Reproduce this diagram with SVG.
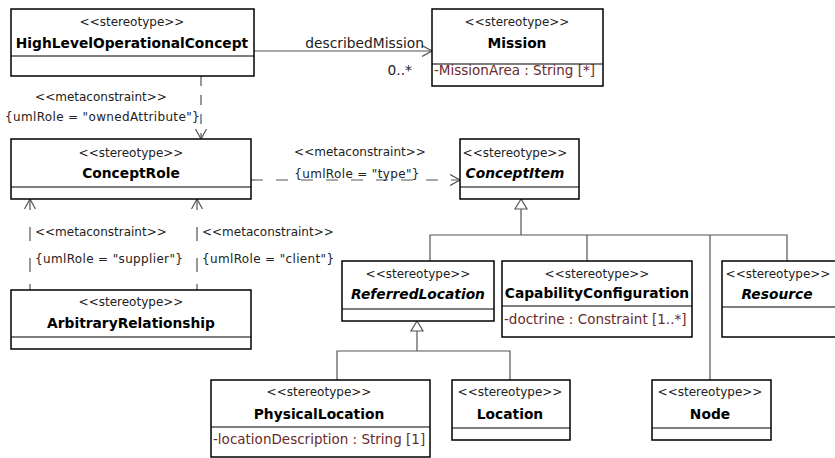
<svg xmlns="http://www.w3.org/2000/svg" width="835" height="458" viewBox="0 0 835 458">
<style>
.box{fill:#fff;stroke:#000;stroke-width:1.5}
.dv{stroke:#000;stroke-width:1.2}
text{font-family:"DejaVu Sans",Verdana,sans-serif}
.st{font-size:12px;fill:#222;text-anchor:middle}
.nm{font-size:13.8px;font-weight:bold;fill:#000;text-anchor:middle}
.it{font-style:italic}
.at{font-size:13.5px;fill:#6a2a2a}
.lbl{font-size:12px;fill:#222}
.sp{letter-spacing:0.35px}
.al{font-size:13.8px;fill:#222}
.conn{stroke:#555;stroke-width:1.2;fill:none}
.d1{stroke-dasharray:10 9}
.d2{stroke-dasharray:12 13}
.d3{stroke-dasharray:14 17;stroke-dashoffset:3}
.tri{fill:#fff;stroke:#555;stroke-width:1.2}
</style>
<defs>
<marker id="open" viewBox="0 0 10 12" refX="10" refY="6" markerWidth="10" markerHeight="12" markerUnits="userSpaceOnUse" orient="auto">
<path d="M0,0.5 L10,6 L0,11.5" fill="none" stroke="#555" stroke-width="1.2" stroke-dasharray="none"/>
</marker>
</defs>
<rect width="835" height="458" fill="#fff"/>

<g id="connectors">
<line class="conn" x1="254" y1="51" x2="432" y2="51" marker-end="url(#open)"/>
<line class="conn d1" x1="201" y1="76" x2="201" y2="139" marker-end="url(#open)"/>
<line class="conn d2" x1="251" y1="180" x2="460" y2="180" marker-end="url(#open)"/>
<line class="conn d3" x1="30" y1="199" x2="30" y2="290"/>
<line class="conn" x1="30" y1="290" x2="30" y2="199" marker-end="url(#open)" style="stroke-dasharray:6 200"/>
<line class="conn d3" x1="197" y1="199" x2="197" y2="290"/>
<line class="conn" x1="197" y1="290" x2="197" y2="199" marker-end="url(#open)" style="stroke-dasharray:6 200"/>
<path class="conn" d="M521,209 V235 M430,261 V235 H787 V261 M587,235 V261 M710,235 V380"/>
<polygon class="tri" points="521,199 515,209 527,209"/>
<path class="conn" d="M417,331 V351 M337,380 V351 H510 V380"/>
<polygon class="tri" points="417,321 411,331 423,331"/>
<text class="al" x="424" y="48" text-anchor="end">describedMission</text>
<text class="al" x="412" y="75" text-anchor="end">0..*</text>
<text class="lbl" x="101" y="101" text-anchor="middle">&lt;&lt;metaconstraint&gt;&gt;</text>
<text class="lbl sp" x="200" y="121" text-anchor="end">{umlRole = "ownedAttribute"}</text>
<text class="lbl" x="360" y="156" text-anchor="middle">&lt;&lt;metaconstraint&gt;&gt;</text>
<text class="lbl sp" x="357" y="178" text-anchor="middle">{umlRole = "type"}</text>
<text class="lbl" x="35" y="236">&lt;&lt;metaconstraint&gt;&gt;</text>
<text class="lbl sp" x="35" y="263">{umlRole = "supplier"}</text>
<text class="lbl" x="202" y="236">&lt;&lt;metaconstraint&gt;&gt;</text>
<text class="lbl sp" x="202" y="263">{umlRole = "client"}</text>
</g>

<g id="HighLevelOperationalConcept">
<rect class="box" x="11" y="9" width="243" height="67"/>
<line class="dv" x1="11" y1="56" x2="254" y2="56"/>
<text class="st" x="132" y="26">&lt;&lt;stereotype&gt;&gt;</text>
<text class="nm" x="132" y="48">HighLevelOperationalConcept</text>
</g>

<g id="Mission">
<rect class="box" x="432" y="9" width="171" height="77"/>
<line class="dv" x1="432" y1="64" x2="603" y2="64"/>
<text class="st" x="517" y="26">&lt;&lt;stereotype&gt;&gt;</text>
<text class="nm" x="517" y="48">Mission</text>
<text class="at" x="434" y="75">-MissionArea : String [*]</text>
</g>

<g id="ConceptRole">
<rect class="box" x="11" y="139" width="240" height="60"/>
<line class="dv" x1="11" y1="187" x2="251" y2="187"/>
<text class="st" x="131" y="157">&lt;&lt;stereotype&gt;&gt;</text>
<text class="nm" x="131" y="178">ConceptRole</text>
</g>

<g id="ConceptItem">
<rect class="box" x="460" y="139" width="119" height="60"/>
<line class="dv" x1="460" y1="187" x2="579" y2="187"/>
<text class="st" x="515" y="157">&lt;&lt;stereotype&gt;&gt;</text>
<text class="nm it" x="515" y="178">ConceptItem</text>
</g>

<g id="ArbitraryRelationship">
<rect class="box" x="11" y="290" width="240" height="59"/>
<line class="dv" x1="11" y1="337" x2="251" y2="337"/>
<text class="st" x="131" y="306">&lt;&lt;stereotype&gt;&gt;</text>
<text class="nm" x="131" y="328">ArbitraryRelationship</text>
</g>

<g id="ReferredLocation">
<rect class="box" x="342" y="261" width="152" height="60"/>
<line class="dv" x1="342" y1="309" x2="494" y2="309"/>
<text class="st" x="418" y="278">&lt;&lt;stereotype&gt;&gt;</text>
<text class="nm it" x="418" y="299">ReferredLocation</text>
</g>

<g id="CapabilityConfiguration">
<rect class="box" x="502" y="261" width="190" height="76"/>
<line class="dv" x1="502" y1="306" x2="692" y2="306"/>
<text class="st" x="597" y="278">&lt;&lt;stereotype&gt;&gt;</text>
<text class="nm" x="597" y="298">CapabilityConfiguration</text>
<text class="at" x="504" y="324">-doctrine : Constraint [1..*]</text>
</g>

<g id="Resource">
<rect class="box" x="722" y="261" width="122" height="76"/>
<line class="dv" x1="722" y1="307" x2="844" y2="307"/>
<text class="st" x="778" y="278">&lt;&lt;stereotype&gt;&gt;</text>
<text class="nm it" x="777" y="299">Resource</text>
</g>

<g id="PhysicalLocation">
<rect class="box" x="211" y="380" width="219" height="77"/>
<line class="dv" x1="211" y1="427" x2="430" y2="427"/>
<text class="st" x="319" y="396">&lt;&lt;stereotype&gt;&gt;</text>
<text class="nm" x="319" y="419">PhysicalLocation</text>
<text class="at" x="213" y="444">-locationDescription : String [1]</text>
</g>

<g id="Location">
<rect class="box" x="452" y="380" width="118" height="60"/>
<line class="dv" x1="452" y1="428" x2="570" y2="428"/>
<text class="st" x="510" y="396">&lt;&lt;stereotype&gt;&gt;</text>
<text class="nm" x="510" y="419">Location</text>
</g>

<g id="Node">
<rect class="box" x="652" y="380" width="119" height="60"/>
<line class="dv" x1="652" y1="428" x2="771" y2="428"/>
<text class="st" x="710" y="396">&lt;&lt;stereotype&gt;&gt;</text>
<text class="nm" x="710" y="419">Node</text>
</g>
</svg>
